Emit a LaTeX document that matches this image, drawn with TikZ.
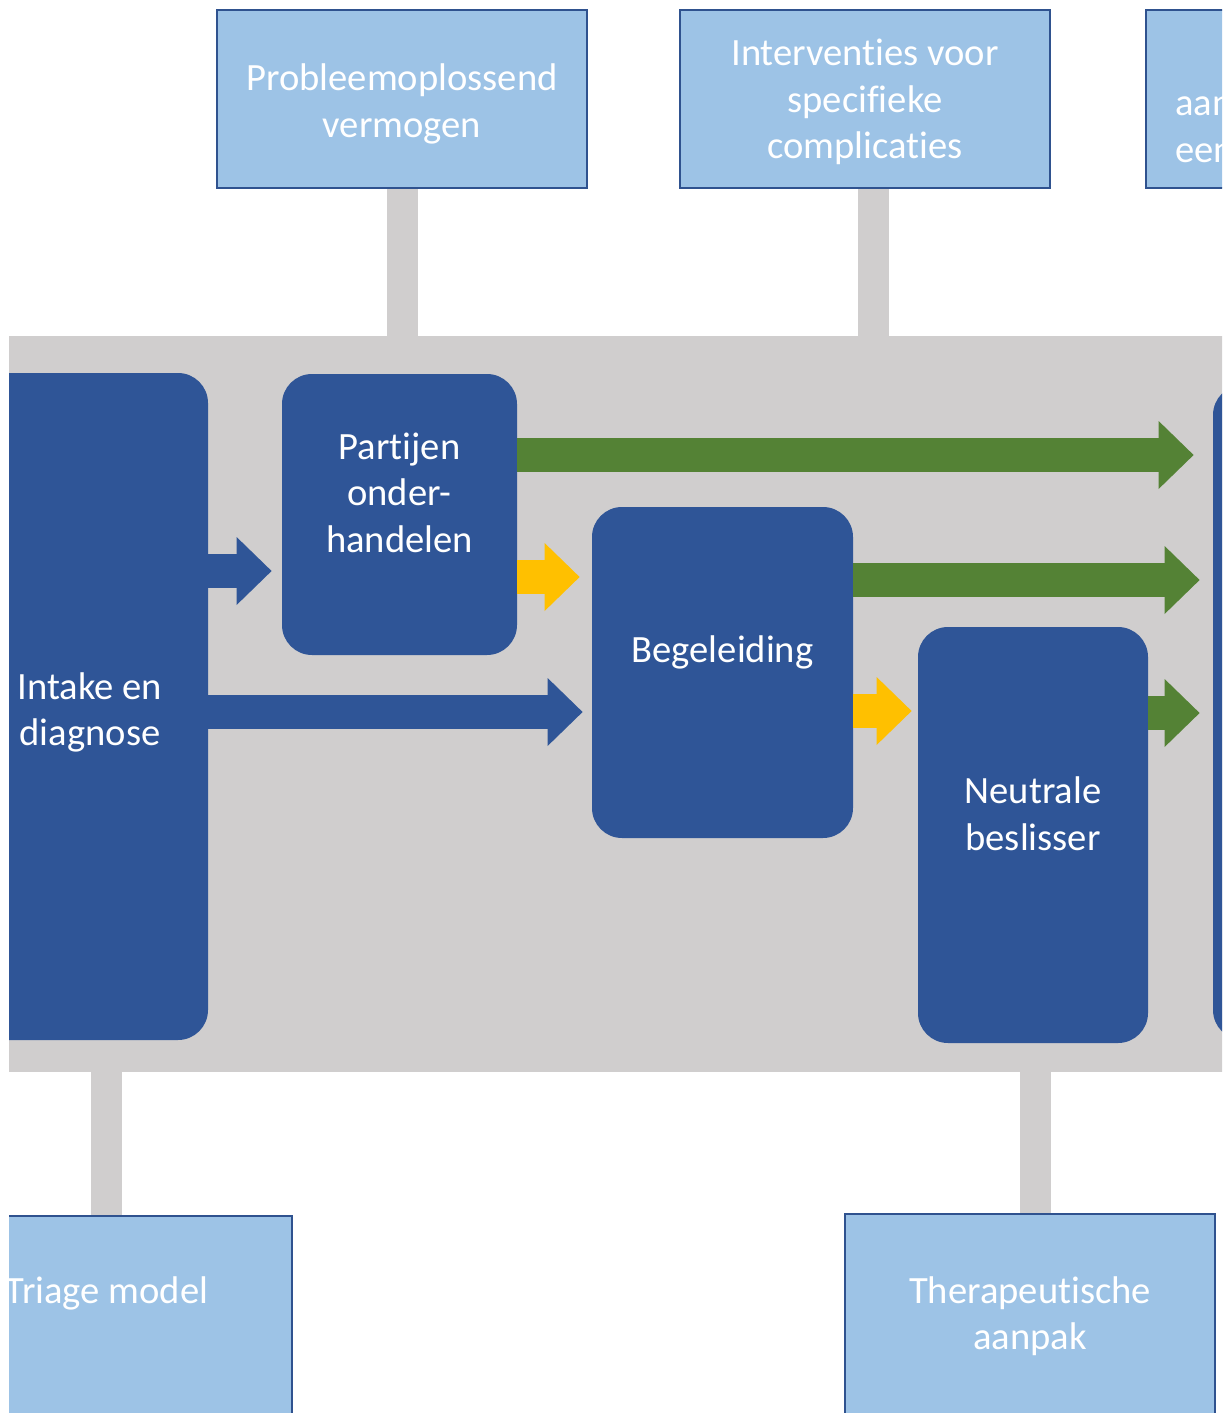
\documentclass[tikz,border=0pt]{standalone}
\usepackage{fontspec}
\setmainfont{Carlito}[Ligatures=NoCommon]
\usepackage{xcolor}
\usetikzlibrary{arrows.meta, positioning}

\definecolor{bandgray}{HTML}{D0CECE}
\definecolor{darkblue}{HTML}{2F5597}
\definecolor{lightblue}{HTML}{9DC3E6}
\definecolor{edgeblue}{HTML}{2F528F}
\definecolor{flowgreen}{HTML}{548235}
\definecolor{flowyellow}{HTML}{FFC000}

\begin{document}
\begin{tikzpicture}[
    x=0.5pt, y=-0.5pt,
    every node/.style={font=\fontsize{19.3}{23.3}\selectfont, text=white, align=center, inner sep=0pt},
    topic/.style={rectangle, draw=edgeblue, line width=1.2pt, fill=lightblue, minimum width=185pt, minimum height=89pt},
    phase/.style={rectangle, fill=darkblue, rounded corners=15pt},
    link/.style={bandgray, line width=15.5pt},
    flow/.style={line width=17pt, -{Triangle[length=17.5pt, width=34pt, line width=0pt]}}
]
\useasboundingbox (0,0) rectangle (1222,1413);
\clip (9,0) rectangle (1222,1413);
\node[fill=bandgray, minimum width=650pt, minimum height=368pt] (band) at (610,704) {};
\node[topic] (prob) at (402,99) {};
\node (probtext) at ([yshift=-2.5pt]prob.center) {Probleemoplossend\\vermogen};
\node[topic] (interv) at (865,99) {};
\node (intervtext) at ([yshift=-1.5pt]interv.center) {Interventies voor\\specifieke\\complicaties};
\node[topic] (extra) at (1331,99) {};
\node[anchor=west, align=left] (extratext) at (1175,130) {aan\\een};
\node[topic, minimum height=100pt] (triage) at (107,1316) {};
\node (triagetext) at ([yshift=11.5pt]triage.center) {Triage model};
\node[topic, minimum height=100pt] (therap) at (1030,1314) {};
\node (theraptext) at ([yshift=-1pt]therap.center) {Therapeutische\\aanpak};
\draw[link] (prob.south) -- (prob.south |- band.north);
\draw[link] (873,0 |- interv.south) -- (873,0 |- band.north);
\draw[link] (106,0 |- band.south) -- (106,0 |- triage.north);
\draw[link] (1035,0 |- band.south) -- (1035,0 |- therap.north);
\node[phase, minimum width=118pt, minimum height=333.5pt] (intake) at (90,706.5) {};
\node (intaketext) at ([yshift=-3pt]intake.center) {Intake en\\diagnose};
\node[phase, minimum width=117.5pt, minimum height=140.5pt] (partijen) at (399.5,514.5) {};
\node (partijentext) at ([yshift=11pt]partijen.center) {Partijen\\onder-\\handelen};
\node[phase, minimum width=130.5pt, minimum height=165.5pt] (begeleiding) at (722.5,672.5) {};
\node (begeleidingtext) at ([yshift=10pt]begeleiding.center) {Begeleiding};
\node[phase, minimum width=115pt, minimum height=208pt] (neutrale) at (1033,835) {};
\node (neutraletext) at ([yshift=10.5pt]neutrale.center) {Neutrale\\beslisser};
\node[phase, minimum width=118pt, minimum height=327.5pt] (uitkomst) at (1331,712.5) {};
\draw[flow, darkblue, shorten >=5pt] (intake.east |- 0,571) -- (partijen.west |- 0,571);
\draw[flow, darkblue, shorten >=4.5pt] (intake.east |- 0,712) -- (begeleiding.west |- 0,712);
\draw[flow, flowyellow, shorten >=6pt] (partijen.east |- 0,577) -- (begeleiding.west |- 0,577);
\draw[flow, flowyellow, shorten >=3pt] (begeleiding.east |- 0,711) -- (neutrale.west |- 0,711);
\draw[flow, flowgreen, shorten >=9.5pt] (partijen.east |- 0,455) -- (uitkomst.west |- 0,455);
\draw[flow, flowgreen, shorten >=6.5pt] (begeleiding.east |- 0,580) -- (uitkomst.west |- 0,580);
\draw[flow, flowgreen, shorten >=6.5pt] (neutrale.east |- 0,713) -- (uitkomst.west |- 0,713);
\end{tikzpicture}
\end{document}
